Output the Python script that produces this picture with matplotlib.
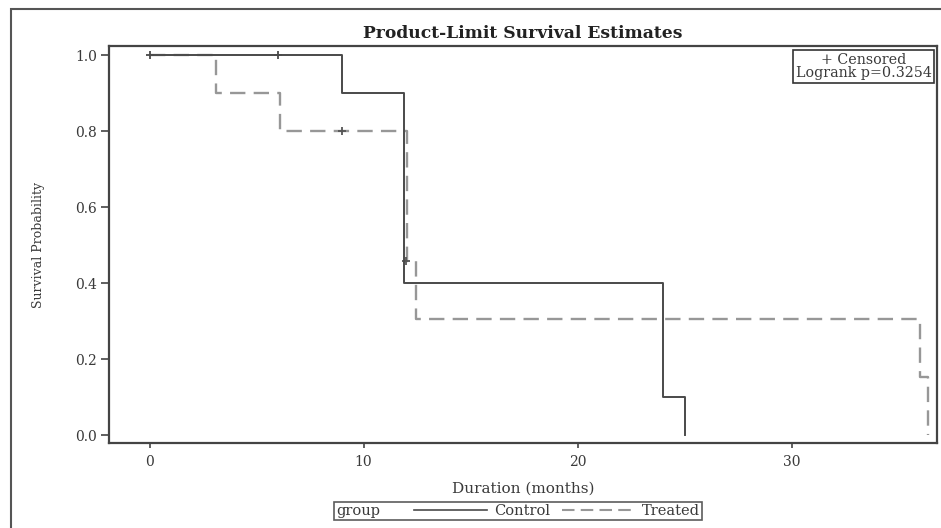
import matplotlib.pyplot as plt
import matplotlib.patches as mpatches
from matplotlib.lines import Line2D
from matplotlib.offsetbox import HPacker

# Kaplan-Meier step data
control_times = [0, 9, 11.9, 24, 25]
control_surv = [1.0, 0.9, 0.4, 0.1, 0.0]
control_cens_t = [0, 6]
control_cens_s = [1.0, 1.0]

treated_times = [0, 3.1, 6.1, 12.05, 12.45, 36.0, 36.4]
treated_surv = [1.0, 0.9, 0.8, 0.457, 0.305, 0.152, 0.0]
treated_cens_t = [9, 12.0]
treated_cens_s = [0.8, 0.457]

x_ticks = [0, 10, 20, 30]
y_ticks = [0.0, 0.2, 0.4, 0.6, 0.8, 1.0]
logrank_p = 0.3254

plt.rcParams['font.family'] = ['DejaVu Serif']
c_col = '#4a4a4a'
t_col = '#979797'
txt_col = '#3a3a3a'

fig = plt.figure(figsize=(9.41, 5.28), dpi=100)
ax = fig.add_axes([109 / 941, 1 - 443 / 528, (937 - 109) / 941, (443 - 46) / 528])

ax.step(treated_times, treated_surv, where='post', color=t_col, lw=1.7,
        dashes=(6.5, 3.5), zorder=2)
ax.plot(treated_cens_t, treated_cens_s, ls='none', marker='+', ms=6, mew=1.3,
        color='#555555', zorder=3)
ax.step(control_times, control_surv, where='post', color=c_col, lw=1.4, zorder=3)
ax.plot(control_cens_t, control_cens_s, ls='none', marker='+', ms=6, mew=1.3,
        color=c_col, zorder=4)

ax.set_xlim(-1.9, 36.8)
ax.set_ylim(-0.021, 1.024)
ax.set_xticks(x_ticks)
ax.set_yticks(y_ticks)
ax.set_yticklabels([f'{v:.1f}' for v in y_ticks])
ax.tick_params(direction='out', width=1.2, color='#444444',
               labelsize=10, labelcolor=txt_col)
ax.tick_params(axis='x', length=3.6, pad=5)
ax.tick_params(axis='y', length=6, pad=2.5)
for s in ax.spines.values():
    s.set_color('#444444')
    s.set_linewidth(1.6)

ax.set_title('Product-Limit Survival Estimates', fontsize=12.3, fontweight='bold',
             color='#222222', pad=6)
ax.set_xlabel('Duration (months)', fontsize=11, color=txt_col, labelpad=9)
ax.set_ylabel('Survival Probability', fontsize=9, color=txt_col, labelpad=22)

# censored / logrank inset
ax.text(0.9935, 0.983, f'+ Censored\nLogrank p={logrank_p}', transform=ax.transAxes,
        ha='right', va='top', fontsize=10.3, color=txt_col, multialignment='center',
        linespacing=0.95,
        bbox=dict(boxstyle='square,pad=0.18', fc='white', ec='#333333', lw=1.2))

# bottom group legend with "group" to the left of entries
handles = [Line2D([], [], color=c_col, lw=1.2),
           Line2D([], [], color=t_col, lw=1.5, dashes=(6, 3))]
leg = fig.legend(handles, ['Control', 'Treated'], loc='center',
                 bbox_to_anchor=(518 / 941, 1 - 511 / 528), ncol=2, fontsize=10.5,
                 frameon=True, fancybox=False, edgecolor='#333333', handlelength=5.0,
                 columnspacing=0.8, handletextpad=0.5, borderpad=0.15,
                 title='group', title_fontsize=10.5)
leg.get_frame().set_linewidth(1.2)
for t in leg.get_texts():
    t.set_color(txt_col)
leg.get_title().set_color(txt_col)
old = leg._legend_box
newbox = HPacker(pad=old.pad, sep=24, align='center',
                 children=[leg._legend_title_box, leg._legend_handle_box])
newbox.set_figure(fig)
newbox.axes = None
leg._legend_box = newbox
leg._set_loc(leg._loc)

# outer border of the graph area
fig.patches.append(mpatches.Rectangle((11 / 941, -0.2), 1.2, 1 - 9 / 528 + 0.2,
                                      transform=fig.transFigure, fill=False,
                                      ec='#555555', lw=1.5))

fig.savefig('out.png', dpi=100)
